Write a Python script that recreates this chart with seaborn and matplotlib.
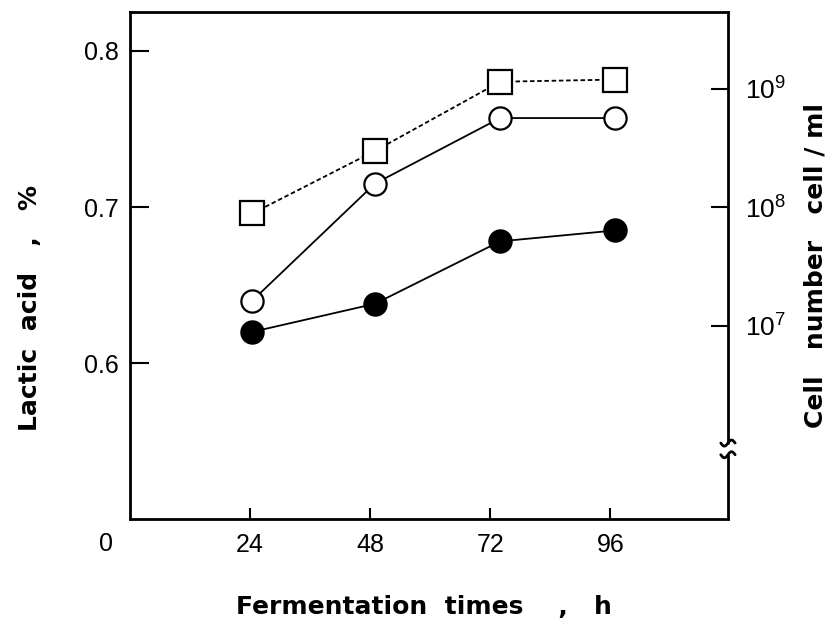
import numpy as np
import pandas as pd
import matplotlib
matplotlib.use("Agg")
import matplotlib.pyplot as plt
import seaborn as sns

# ---- data ----
times_h = [24.5, 49, 74, 97]
lactic_open = [0.640, 0.715, 0.757, 0.757]      # open circles, solid line
lactic_filled = [0.620, 0.638, 0.678, 0.685]    # filled circles, solid line
cells_square = [8.9e7, 3.0e8, 1.15e9, 1.2e9]    # open squares, dashed line (cell/ml)

x_ticks = [24, 48, 72, 96]
x_ticklabels = ["24", "48", "72", "96"]
left_ticks = [0.6, 0.7, 0.8]
left_ticklabels = ["0.6", "0.7", "0.8"]
right_ticks = [1e7, 1e8, 1e9]
right_ticklabels = [r"$10^7$", r"$10^8$", r"$10^9$"]

sns.set_style("white")
plt.rcParams["font.family"] = ["Liberation Sans", "DejaVu Sans"]
plt.rcParams["mathtext.fontset"] = "custom"
plt.rcParams["mathtext.rm"] = "Liberation Sans"
plt.rcParams["mathtext.it"] = "Liberation Sans"
for key in ["text.color", "axes.labelcolor", "xtick.color", "ytick.color"]:
    plt.rcParams[key] = "black"

fig = plt.figure(figsize=(8.31, 6.27), dpi=100)
ax = fig.add_axes([0.156, 0.172, 0.72, 0.809])

df_open = pd.DataFrame({"t": times_h, "v": lactic_open})
df_fill = pd.DataFrame({"t": times_h, "v": lactic_filled})

sns.lineplot(data=df_open, x="t", y="v", ax=ax, color="black", linewidth=1.3,
             marker="o", markersize=16, markerfacecolor="white",
             markeredgecolor="black", markeredgewidth=1.6)
sns.lineplot(data=df_fill, x="t", y="v", ax=ax, color="black", linewidth=1.3,
             marker="o", markersize=16, markerfacecolor="black",
             markeredgecolor="black", markeredgewidth=1.6)

ax.set_xlim(0, 119.5)
ax.set_ylim(0.5, 0.825)
ax.set_xticks(x_ticks)
ax.set_xticklabels(x_ticklabels, fontsize=18)
ax.set_yticks(left_ticks)
ax.set_yticklabels(left_ticklabels, fontsize=18)
ax.tick_params(axis="y", left=True, direction="in", length=14, width=1.5, pad=8,
               colors="black")
ax.tick_params(axis="x", bottom=True, direction="in", length=8, width=1.5, pad=10,
               colors="black")
ax.set_xlabel("")
ax.set_ylabel("")
for s in ax.spines.values():
    s.set_linewidth(2)
    s.set_color("black")
ax.spines["right"].set_visible(False)

# "0" at origin corner
ax.text(-0.04, -0.048, "0", transform=ax.transAxes, fontsize=18,
        ha="center", va="center", color="black")

# right (log) axis for cell number
ax2 = ax.twinx()
df_sq = pd.DataFrame({"t": times_h, "v": cells_square})
sns.lineplot(data=df_sq, x="t", y="v", ax=ax2, color="black", linewidth=1.3,
             linestyle=(0, (2.5, 1.5)),
             marker="s", markersize=17, markerfacecolor="white",
             markeredgecolor="black", markeredgewidth=1.6)
ax2.set_yscale("log")
ax2.set_ylim(10 ** 5.37, 10 ** 9.65)
ax2.set_yticks(right_ticks)
ax2.set_yticklabels(right_ticklabels, fontsize=19)
ax2.yaxis.set_minor_locator(matplotlib.ticker.NullLocator())
ax2.tick_params(axis="y", right=True, direction="in", length=12, width=1.5, pad=12,
                colors="black")
ax2.set_ylabel("")
for k in ["left", "top", "bottom", "right"]:
    ax2.spines[k].set_visible(False)

# right spine with break mark
lo, hi = 0.127, 0.150
kw = dict(transform=ax2.transAxes, color="black", lw=2, clip_on=False)
ax2.plot([1, 1], [0, lo], **kw)
ax2.plot([1, 1], [hi, 1], **kw)
t = np.linspace(-1, 1, 30)
ax2.plot(1 + 0.012 * t, lo + 0.006 * np.sin(np.pi * t), **kw)
ax2.plot(1 + 0.012 * t, hi + 0.006 * np.sin(np.pi * t), **kw)

fig.text(0.51, 0.032, "Fermentation  times    ,   h", fontsize=18,
         fontweight="bold", family="DejaVu Sans", ha="center", va="center",
         color="black")
fig.text(0.036, 0.509, "Lactic  acid   ,   %", fontsize=18, fontweight="bold",
         family="DejaVu Sans", rotation=90, ha="center", va="center",
         color="black")
fig.text(0.981, 0.577, "Cell   number   cell / ml", fontsize=18, fontweight="bold",
         family="DejaVu Sans", rotation=90, ha="center", va="center",
         color="black")

fig.savefig("out.png", dpi=100)
